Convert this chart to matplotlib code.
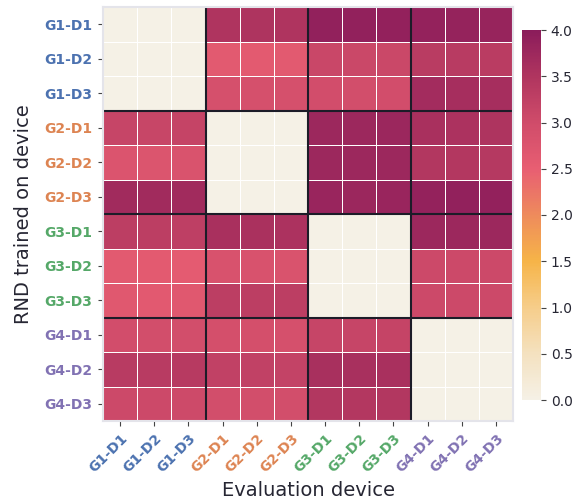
import numpy as np
import matplotlib
matplotlib.use("Agg")
import matplotlib.pyplot as plt
from matplotlib.colors import LinearSegmentedColormap

labels = ["G1-D1", "G1-D2", "G1-D3", "G2-D1", "G2-D2", "G2-D3",
          "G3-D1", "G3-D2", "G3-D3", "G4-D1", "G4-D2", "G4-D3"]
group_colors = ["#4c72b0", "#dd8452", "#55a868", "#8172b3"]

row_g1d1 = [0, 0, 0, 3.50, 3.52, 3.50, 3.90, 3.90, 3.88, 3.86, 3.85, 3.84]
row_g1d2 = [0, 0, 0, 2.62, 2.60, 2.62, 3.10, 3.08, 3.08, 3.35, 3.36, 3.33]
row_g1d3 = [0, 0, 0, 2.90, 2.90, 2.90, 2.96, 2.94, 2.96, 3.66, 3.64, 3.64]
row_g2d1 = [3.15, 3.14, 3.17, 0, 0, 0, 3.76, 3.76, 3.78, 3.58, 3.55, 3.52]
row_g2d2 = [2.78, 2.76, 2.80, 0, 0, 0, 3.76, 3.76, 3.76, 3.46, 3.45, 3.42]
row_g2d3 = [3.70, 3.70, 3.70, 0, 0, 0, 3.80, 3.78, 3.80, 3.86, 3.90, 3.88]
row_g3d1 = [3.30, 3.30, 3.28, 3.58, 3.57, 3.56, 0, 0, 0, 3.76, 3.76, 3.76]
row_g3d2 = [2.62, 2.60, 2.58, 2.82, 2.82, 2.80, 0, 0, 0, 3.05, 3.06, 3.05]
row_g3d3 = [2.66, 2.64, 2.66, 3.30, 3.30, 3.30, 0, 0, 0, 3.06, 3.05, 3.05]
row_g4d1 = [2.96, 2.95, 2.94, 2.92, 2.92, 2.90, 3.15, 3.15, 3.16, 0, 0, 0]
row_g4d2 = [3.36, 3.36, 3.38, 3.22, 3.22, 3.20, 3.60, 3.60, 3.58, 0, 0, 0]
row_g4d3 = [3.06, 3.05, 3.04, 2.95, 2.94, 2.95, 3.46, 3.45, 3.46, 0, 0, 0]

data = np.array([row_g1d1, row_g1d2, row_g1d3, row_g2d1, row_g2d2, row_g2d3,
                 row_g3d1, row_g3d2, row_g3d3, row_g4d1, row_g4d2, row_g4d3])

cmap = LinearSegmentedColormap.from_list(
    "custom",
    [(0.0, "#f5f1e6"), (0.125, "#f4e1bf"), (0.25, "#f6cd8a"), (0.375, "#f6b448"),
     (0.5, "#ee8b5c"), (0.625, "#e85e72"), (0.75, "#d04c6a"), (0.875, "#b0355f"),
     (1.0, "#8b1c5b")])

fig = plt.figure(figsize=(5.79, 5.04), dpi=100)
ax = fig.add_axes([103/579, 1 - 421/504, 410/579, 414/504])
cax = fig.add_axes([522/579, 1 - 400/504, 19/579, 370/504])

n = len(labels)
mesh = ax.pcolormesh(np.arange(n + 1), np.arange(n + 1), data, cmap=cmap,
                     vmin=0, vmax=4, edgecolor="white", linewidth=0.5)
ax.set_xlim(0, n)
ax.set_ylim(n, 0)
for b in [3, 6, 9]:
    ax.axhline(b, color="#1c1c28", lw=1.5)
    ax.axvline(b, color="#1c1c28", lw=1.5)

ax.set_xticks(np.arange(n) + 0.5)
ax.set_yticks(np.arange(n) + 0.5)
ax.set_xticklabels(labels, rotation=45, ha="right", rotation_mode="anchor",
                   fontweight="bold", fontsize=10)
ax.set_yticklabels(labels, fontweight="bold", fontsize=10)
for i, t in enumerate(ax.get_xticklabels()):
    t.set_color(group_colors[i // 3])
for i, t in enumerate(ax.get_yticklabels()):
    t.set_color(group_colors[i // 3])
ax.tick_params(axis="both", length=3.5, width=0.8, color="#444444", pad=4)
for s in ax.spines.values():
    s.set_color("#e4e4ea")
    s.set_linewidth(1.5)

ax.set_xlabel("Evaluation device", fontsize=14, color="#262633", labelpad=4)
ax.set_ylabel("RND trained on device", fontsize=14, color="#262633", labelpad=8)

cb = fig.colorbar(mesh, cax=cax)
cb.outline.set_visible(False)
cb.set_ticks([0, 0.5, 1, 1.5, 2, 2.5, 3, 3.5, 4])
cb.ax.tick_params(labelsize=10, length=3.5, color="#444444", labelcolor="#262633")

fig.savefig("out.png", dpi=100)
